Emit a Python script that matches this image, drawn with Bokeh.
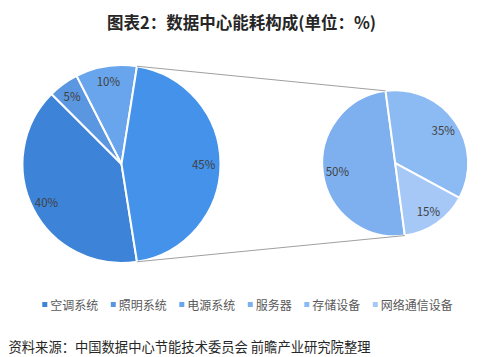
import math
from bokeh.plotting import figure
from bokeh.models import Range1d, ColumnDataSource
from bokeh.core.properties import value
from bokeh.embed import file_html
from bokeh.resources import INLINE

# ---------------- data ----------------
title_text = "图表2：数据中心能耗构成(单位：%)"
source_text = "资料来源：中国数据中心节能技术委员会 前瞻产业研究院整理"

main_cats = ["空调系统", "照明系统", "电源系统"]
main_vals = [40, 5, 10]
other_val = 45                      # combined slice (IT equipment)
sub_cats = ["服务器", "存储设备", "网络通信设备"]
sub_vals = [50, 35, 15]             # breakdown of the combined slice

main_colors = ["#3d84d9", "#5b97e1", "#69a5ec"]
other_color = "#4492e9"
sub_colors = ["#7eb0f0", "#8cbaf3", "#a5c8f6"]

# ---------------- layout ----------------
W, H = 482, 357
FONT = "Noto Sans CJK SC"

p = figure(width=W, height=H, x_range=Range1d(0, W), y_range=Range1d(0, H),
           min_border=0, toolbar_location=None, output_backend="svg",
           x_axis_location=None, y_axis_location=None)
p.grid.visible = False
p.outline_line_color = None
p.background_fill_color = "white"
p.border_fill_color = "white"


def Y(py):
    return H - py


def rad(cw_deg):
    # clockwise-from-top degrees -> bokeh math radians
    return math.radians(90 - cw_deg)


def pt(cx, cy, r, cw_deg):
    a = math.radians(cw_deg)
    return cx + r * math.sin(a), cy - r * math.cos(a)


# main pie
mcx, mcy, mr = 121.0, 163.5, 99.0
scx, scy, sr = 394.7, 162.7, 73.0

main_start = 90 + other_val * 3.6 / 2
m_start, m_end, m_mid = [], [], []
s = main_start
for v in main_vals:
    m_start.append(s)
    m_end.append(s + v * 3.6)
    m_mid.append(s + v * 3.6 / 2)
    s += v * 3.6
o_start = main_start - other_val * 3.6
o_end = main_start

wedge_src = ColumnDataSource(dict(
    x=[mcx] * (len(main_vals) + 1),
    y=[Y(mcy)] * (len(main_vals) + 1),
    start=[rad(e) for e in m_end] + [rad(o_end)],
    end=[rad(b) for b in m_start] + [rad(o_start)],
    color=main_colors + [other_color],
))
p.wedge(x="x", y="y", radius=mr, start_angle="start", end_angle="end",
        fill_color="color", line_color="white", line_width=2, source=wedge_src)

# sub pie
sub_start = 172.4
s_start, s_end, s_mid = [], [], []
s = sub_start
for v in sub_vals:
    s_start.append(s)
    s_end.append(s + v * 3.6)
    s_mid.append(s + v * 3.6 / 2)
    s += v * 3.6
sub_src = ColumnDataSource(dict(
    x=[scx] * len(sub_vals), y=[Y(scy)] * len(sub_vals),
    start=[rad(e) for e in s_end], end=[rad(b) for b in s_start],
    color=sub_colors,
))
p.wedge(x="x", y="y", radius=sr, start_angle="start", end_angle="end",
        fill_color="color", line_color="white", line_width=2, source=sub_src)

# connector lines
a1 = pt(mcx, mcy, mr, o_start)
b1 = pt(scx, scy, sr, s_end[0])
a2 = pt(mcx, mcy, mr, o_end)
b2 = pt(scx, scy, sr, s_start[0])
p.segment(x0=[a1[0], a2[0]], y0=[Y(a1[1]), Y(a2[1])],
          x1=[b1[0], b2[0]], y1=[Y(b1[1]), Y(b2[1])],
          line_color="#a0a0a0", line_width=1)

# data labels
lx, ly, lt = [], [], []
for v, mid in zip(main_vals, m_mid):
    x, y = pt(mcx, mcy, mr * 0.85, mid)
    lx.append(x); ly.append(Y(y)); lt.append(f"{v}%")
x, y = pt(mcx, mcy, mr * 0.83, (o_start + o_end) / 2)
lx.append(x); ly.append(Y(y)); lt.append(f"{other_val}%")
for v, mid in zip(sub_vals, s_mid):
    x, y = pt(scx, scy, sr * 0.8, mid)
    lx.append(x); ly.append(Y(y)); lt.append(f"{v}%")
p.text(x=lx, y=ly, text=lt, text_align="center", text_baseline="middle",
       text_font=value(FONT), text_font_size="11.5px", text_color="#404040")

# title
p.text(x=[W / 2], y=[Y(21)], text=[title_text], text_align="center",
       text_baseline="middle", text_font=value(FONT), text_font_size="16.5px",
       text_font_style="bold", text_color="#262626")

# legend
leg_cats = main_cats + sub_cats
leg_colors = main_colors + sub_colors
mx, tx = [], []
x = 44.3
for c in leg_cats:
    mx.append(x)
    tx.append(x + 5.5)
    x += len(c) * 12 + 20.5
leg_y = Y(304)
p.rect(x=mx, y=[leg_y] * len(mx), width=5, height=5, fill_color=leg_colors,
       line_color=None)
p.text(x=tx, y=[leg_y] * len(tx), text=leg_cats, text_align="left",
       text_baseline="middle", text_font=value(FONT), text_font_size="12px",
       text_color="#595959")

# source note
p.text(x=[8], y=[Y(345.5)], text=[source_text], text_align="left",
       text_baseline="middle", text_font=value(FONT), text_font_size="13.3px",
       text_color="#262626")

open("out.html", "w").write(file_html(p, INLINE))
